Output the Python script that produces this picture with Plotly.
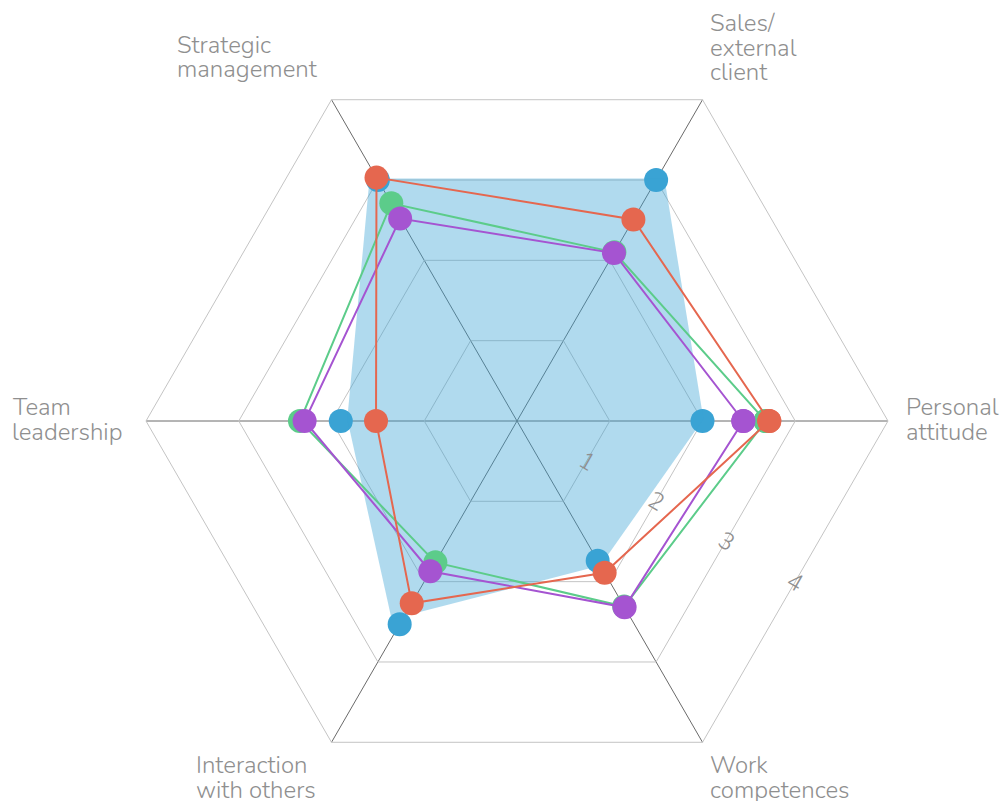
import math
import plotly.graph_objects as go

categories = ["Personal attitude", "Sales/external client", "Strategic management",
              "Team leadership", "Interaction with others", "Work competences"]
# label lines shown around the chart (one entry per category)
label_lines = [["Personal", "attitude"], ["Sales/", "external", "client"],
               ["Strategic", "management"], ["Team", "leadership"],
               ["Interaction", "with others"], ["Work", "competences"]]
blue = [2.0, 3.0, 3.0, 1.9, 2.53, 1.74]
green = [2.68, 2.1, 2.71, 2.34, 1.76, 2.31]
purple = [2.44, 2.09, 2.52, 2.29, 1.87, 2.32]
red = [2.72, 2.51, 3.03, 1.52, 2.27, 1.89]
# outline of the blue shaded area (radius, angle in degrees)
blue_area_r = [2.01, 3.06, 3.06, 1.83, 2.53, 1.80]
blue_area_theta = [0.6, 58.7, 121.3, 179.3, 237.7, 300.0]
radial_ticks = [1, 2, 3, 4]
radial_max = 4

W, H = 1003, 801
dom_x = (146, 888)
dom_y_top, dom_y_bot = 50, 792
cx = (dom_x[0] + dom_x[1]) / 2
cy = (dom_y_top + dom_y_bot) / 2
R = (dom_x[1] - dom_x[0]) / 2
domain = dict(x=[dom_x[0] / W, dom_x[1] / W], y=[1 - dom_y_bot / H, 1 - dom_y_top / H])


def closed(v):
    return list(v) + [v[0]]


theta = closed(categories)
TXT = "#8f8f8f"
FONT = "Nunito, Lato, Noto Sans, sans-serif"

fig = go.Figure()
# layer 1: grid + blue markers
fig.add_trace(go.Scatterpolar(
    r=blue, theta=categories, mode="markers", subplot="polar",
    marker=dict(size=24, color="#3aa3d4"), showlegend=False))
# layer 2: the shaded blue area
fig.add_trace(go.Scatterpolar(
    r=closed(blue_area_r), theta=closed(blue_area_theta), thetaunit="degrees",
    mode="lines", fill="toself", subplot="polar2",
    fillcolor="rgba(58,163,212,0.4)", line=dict(color="rgba(0,0,0,0)", width=0),
    showlegend=False, hoverinfo="skip"))
# layer 3: the line series
for vals, col in [(green, "#5ccc8a"), (purple, "#a554d1"), (red, "#e5674f")]:
    fig.add_trace(go.Scatterpolar(
        r=closed(vals), theta=theta, mode="lines+markers", subplot="polar3",
        line=dict(color=col, width=2), marker=dict(size=24, color=col), showlegend=False))

annotations = []
label_pos = {  # left x (px), first line center y (px)
    0: (904, 407), 1: (708, 23), 2: (175, 45), 3: (10, 407), 4: (194, 765), 5: (708, 765)}
LINE = 24.5
for i, lines in enumerate(label_lines):
    x0, y0 = label_pos[i]
    for j, t in enumerate(lines):
        annotations.append(dict(
            text=t, x=x0 / W, y=1 - (y0 + j * LINE) / H, xref="paper", yref="paper",
            xanchor="left", yanchor="middle", showarrow=False,
            font=dict(family=FONT, size=24, color=TXT, weight=300)))

# radial tick labels along the -30 degree direction (edge mid-points of the hexagons)
ang = math.radians(-30)
for t in radial_ticks:
    d = t / radial_max * R * math.cos(math.radians(30))
    px = cx + d * math.cos(ang)
    py = cy - d * math.sin(ang)
    annotations.append(dict(
        text=str(t), x=px / W, y=1 - py / H, xref="paper", yref="paper",
        xanchor="center", yanchor="middle", showarrow=False, textangle=30,
        font=dict(family=FONT, size=24, color=TXT, weight=300)))

hidden_radial = dict(range=[0, radial_max], visible=False)
fig.update_layout(
    width=W, height=H,
    margin=dict(l=0, r=0, t=0, b=0),
    paper_bgcolor="white",
    font=dict(family=FONT, size=18, color=TXT),
    annotations=annotations,
    polar=dict(
        domain=domain, bgcolor="white", gridshape="linear",
        radialaxis=dict(range=[0, radial_max], tickvals=radial_ticks, showline=False,
                        showticklabels=False, gridcolor="#c4c4c4", gridwidth=1, ticks=""),
        angularaxis=dict(direction="counterclockwise", rotation=0,
                         showline=True, linecolor="#c4c4c4", linewidth=1,
                         gridcolor="#6a6a6a", gridwidth=1, ticks="", showticklabels=False),
    ),
    polar2=dict(
        domain=domain, bgcolor="rgba(0,0,0,0)",
        radialaxis=hidden_radial,
        angularaxis=dict(type="linear", thetaunit="degrees", direction="counterclockwise",
                         rotation=0, visible=False),
    ),
    polar3=dict(
        domain=domain, bgcolor="rgba(0,0,0,0)", gridshape="linear",
        radialaxis=hidden_radial,
        angularaxis=dict(direction="counterclockwise", rotation=0, visible=False),
    ),
)
fig.write_html("out.html")
